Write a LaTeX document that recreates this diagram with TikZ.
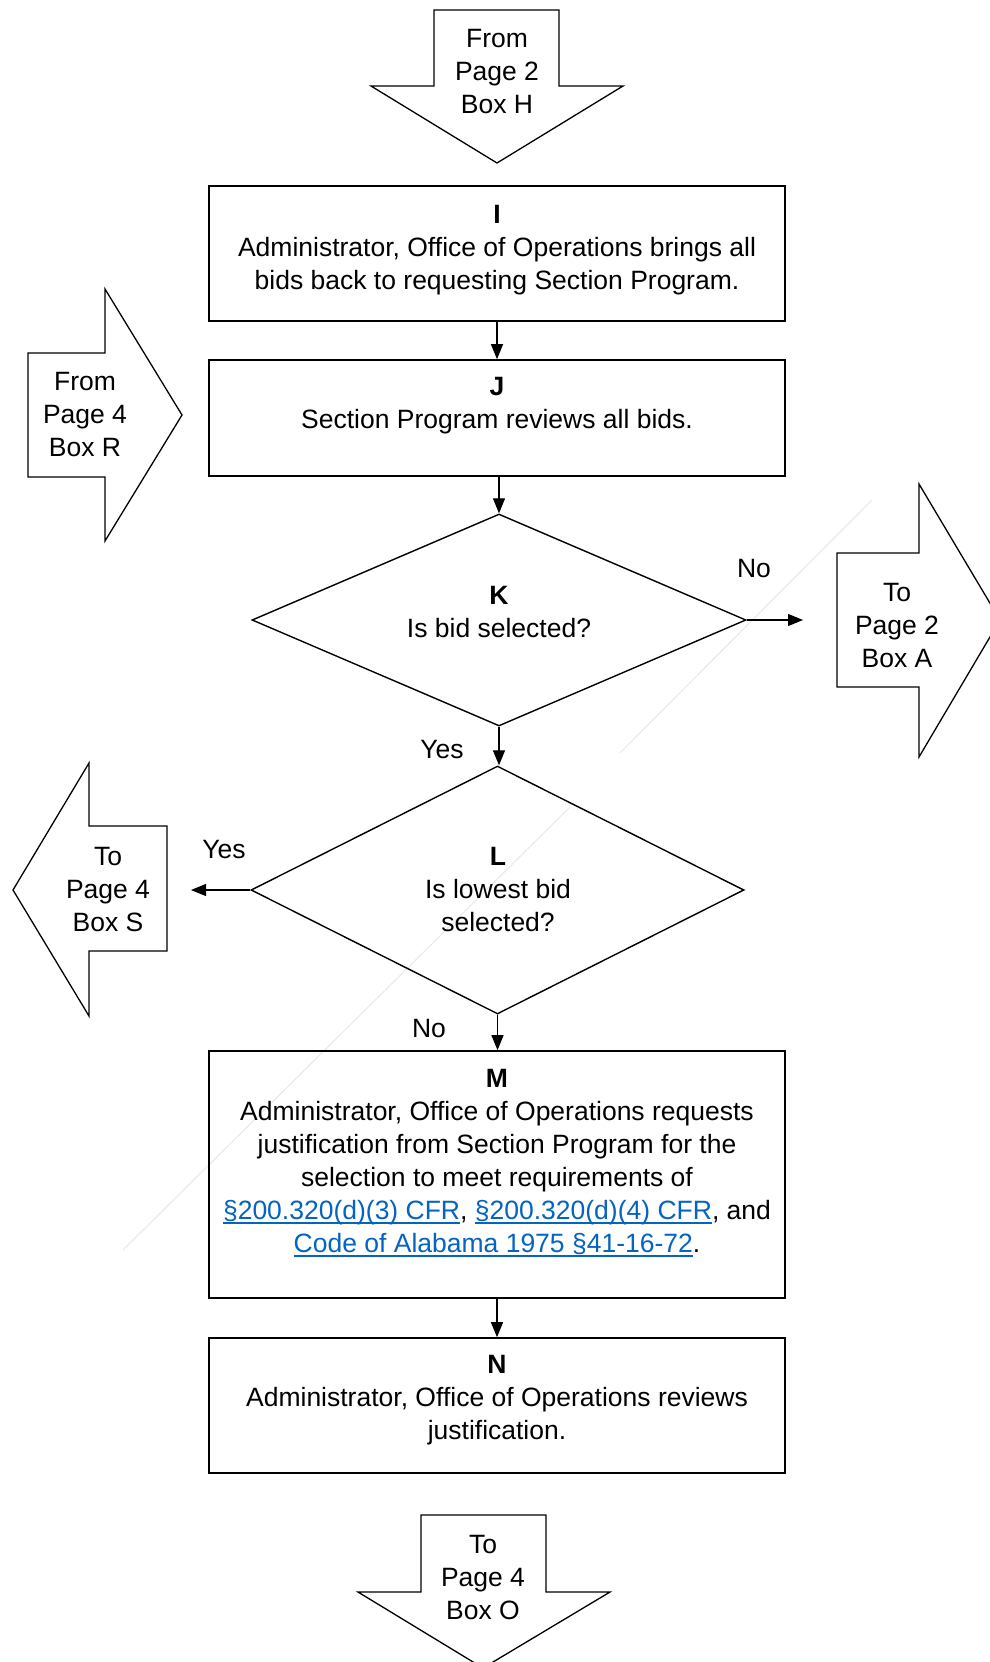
\documentclass[tikz,border=0pt]{standalone}
\usepackage{fontspec}
\setmainfont{Liberation Sans}
\usetikzlibrary{shapes.geometric,arrows.meta}
\definecolor{linkblue}{RGB}{5,99,193}
\newcommand{\lnk}[1]{\textcolor{linkblue}{\setbox0\hbox{#1}\rlap{\rule[-4pt]{\wd0}{1.3pt}}\box0}}
\tikzset{
  procbox/.style={draw, line width=1.6pt, rectangle, inner sep=0pt},
  decbox/.style={draw, line width=1.4pt, diamond, inner sep=0pt},
  pagearrow/.style={draw, line width=1.3pt, line join=miter},
  txt/.style={align=center, inner sep=0pt, font=\fontsize{26.5}{33}\selectfont},
  conn/.style={line width=1.1pt, -{Triangle[length=15pt,width=12pt]}},
  faint/.style={gray!18, line width=1pt}
}
\begin{document}
\begin{tikzpicture}[x=1pt,y=-1pt]
\useasboundingbox (0,0) rectangle (989,1662);
\fill[white] (0,0) rectangle (989,1662);

% faint artifact lines
\draw[faint] (872,500) -- (620,753);
\draw[faint] (570,807) -- (123,1250);

% off-page arrows
\draw[pagearrow] (434,10) -- (559,10) -- (559,86) -- (623,86) -- (497,163) -- (371,86) -- (434,86) -- cycle;
\node[txt] (tH) at (497,72) {From\\Page 2\\Box H};

\draw[pagearrow] (28,353) -- (105,353) -- (105,289) -- (182,415) -- (105,541) -- (105,477) -- (28,477) -- cycle;
\node[txt] (tR) at (85,415) {From\\Page 4\\Box R};

\draw[pagearrow] (837,553) -- (919,553) -- (919,484) -- (1000,620) -- (919,757) -- (919,687) -- (837,687) -- cycle;
\node[txt] (tA) at (897,626) {To\\Page 2\\Box A};

\draw[pagearrow] (167,826) -- (89,826) -- (89,763) -- (13,890) -- (89,1016) -- (89,951) -- (167,951) -- cycle;
\node[txt] (tS) at (108,890) {To\\Page 4\\Box S};

\draw[pagearrow] (421,1515) -- (546,1515) -- (546,1592) -- (610,1592) -- (483,1668) -- (358,1592) -- (421,1592) -- cycle;
\node[txt] (tO) at (483,1577) {To\\Page 4\\Box O};

% process boxes
\node[procbox, minimum width=576pt, minimum height=135pt] (I) at (497,253.5) {};
\node[txt] (tI) at (497,250) {\textbf{I}\\Administrator, Office of Operations brings all\\bids back to requesting Section Program.};

\node[procbox, minimum width=576pt, minimum height=116pt] (J) at (497,418) {};
\node[txt] (tJ) at (497,406) {\textbf{J}\\Section Program reviews all bids.};

\node[decbox, minimum width=494pt, minimum height=212pt] (K) at (499,620) {};
\node[txt] (tK) at (499,612) {\textbf{K}\\Is bid selected?};

\node[decbox, minimum width=493pt, minimum height=248pt] (L) at (497.5,890) {};
\node[txt] (tL) at (498,890) {\textbf{L}\\Is lowest bid\\selected?};

\node[procbox, minimum width=576pt, minimum height=247pt] (M) at (497,1174.5) {};
\node[txt] (tM) at (497,1163) {\textbf{M}\\Administrator, Office of Operations requests\\justification from Section Program for the\\selection to meet requirements of\\\lnk{§200.320(d)(3) CFR}, \lnk{§200.320(d)(4) CFR}, and\\\lnk{Code of Alabama 1975 §41-16-72}.};

\node[procbox, minimum width=576pt, minimum height=135pt] (N) at (497,1405.5) {};
\node[txt] (tN) at (497,1400) {\textbf{N}\\Administrator, Office of Operations reviews\\justification.};

% labels
\node[txt] (noK) at (754,569) {No};
\node[txt] (yesK) at (442,750) {Yes};
\node[txt] (yesL) at (224,850) {Yes};
\node[txt] (noL) at (429,1029) {No};

% connector ends
\coordinate (aEnd) at (803,620);
\coordinate (sEnd) at (191,890);

% connectors
\draw[conn] (I.south) -- (J.north);
\draw[conn] (J.south -| K.north) -- (K.north);
\draw[conn] (K.south) -- (K.south |- L.north);
\draw[conn] (K.east) -- (aEnd);
\draw[conn] (L.west) -- (sEnd);
\draw[conn] (L.south) -- (L.south |- M.north);
\draw[conn] (M.south) -- (N.north);
\end{tikzpicture}
\end{document}
